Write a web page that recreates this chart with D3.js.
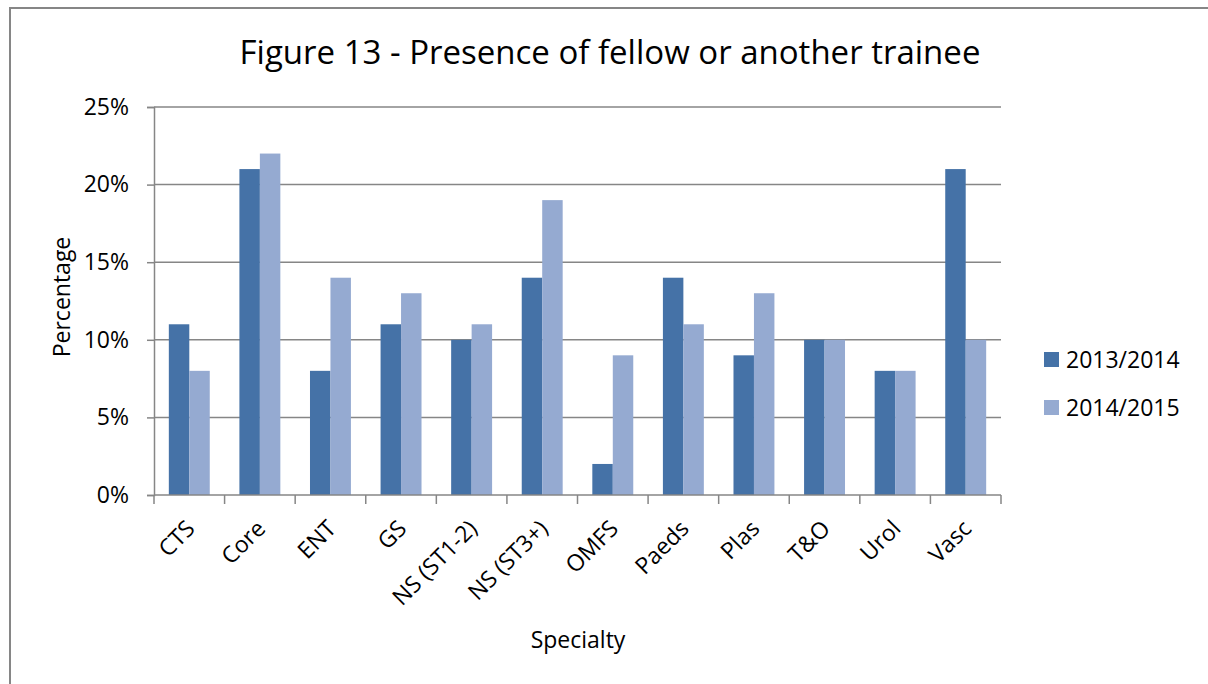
<!DOCTYPE html>
<html>
<head>
<meta charset="utf-8">
<script src="https://cdn.jsdelivr.net/npm/d3@7"></script>
<style>
  body { margin: 0; background: #fff; }
  svg { display: block; font-family: "Open Sans", sans-serif; }
</style>
</head>
<body>
<svg id="chart" width="1208" height="684"></svg>
<script>
var categories = ["CTS", "Core", "ENT", "GS", "NS (ST1-2)", "NS (ST3+)", "OMFS", "Paeds", "Plas", "T&O", "Urol", "Vasc"];
var seriesNames = ["2013/2014", "2014/2015"];
var values2013 = [11, 21, 8, 11, 10, 14, 2, 14, 9, 10, 8, 21];
var values2014 = [8, 22, 14, 13, 11, 19, 9, 11, 13, 10, 8, 10];
var yTicks = [0, 5, 10, 15, 20, 25];
var colors = ["#4572a7", "#95aad1"];

var svg = d3.select("#chart");
var gridColor = "#868686";
var fontSize = 23;

// outer chart border (runs off right / bottom edge)
svg.append("rect")
  .attr("x", 10).attr("y", 8)
  .attr("width", 1250).attr("height", 700)
  .attr("fill", "none")
  .attr("stroke", "#868686")
  .attr("stroke-width", 2);

var plotLeft = 154, plotRight = 1001, plotTop = 107, plotBottom = 495;

var x = d3.scaleBand().domain(categories).range([plotLeft, plotRight])
  .paddingInner(0.42).paddingOuter(0.21);
var x1 = d3.scaleBand().domain(seriesNames).range([0, x.bandwidth()]);
var y = d3.scaleLinear().domain([0, 25]).range([plotBottom, plotTop]);

// gridlines
svg.append("g").selectAll("line")
  .data(yTicks.filter(function (d) { return d > 0; }))
  .enter().append("line")
  .attr("x1", plotLeft).attr("x2", plotRight)
  .attr("y1", function (d) { return y(d); })
  .attr("y2", function (d) { return y(d); })
  .attr("stroke", gridColor).attr("stroke-width", 1.5);

// y axis
var yAxis = svg.append("g")
  .attr("transform", "translate(" + plotLeft + ",0)")
  .call(d3.axisLeft(y).tickValues(yTicks).tickSize(7).tickPadding(18)
    .tickFormat(function (d) { return d + "%"; }));
yAxis.select(".domain").attr("stroke", gridColor).attr("stroke-width", 1.5);
yAxis.selectAll(".tick line").attr("stroke", gridColor).attr("stroke-width", 1.5);
yAxis.selectAll("text")
  .attr("font-size", fontSize).attr("fill", "#000")
  .attr("font-family", "'Open Sans', sans-serif");

// bars
var groups = svg.append("g").selectAll("g")
  .data(categories)
  .enter().append("g")
  .attr("transform", function (d) { return "translate(" + x(d) + ",0)"; });

groups.selectAll("rect")
  .data(function (d, i) {
    return [
      { name: seriesNames[0], value: values2013[i], c: 0 },
      { name: seriesNames[1], value: values2014[i], c: 1 }
    ];
  })
  .enter().append("rect")
  .attr("x", function (d) { return x1(d.name); })
  .attr("width", x1.bandwidth())
  .attr("y", function (d) { return y(d.value); })
  .attr("height", function (d) { return y(0) - y(d.value); })
  .attr("fill", function (d) { return colors[d.c]; });

// x axis
var step = x.step();
var xAxis = svg.append("g").attr("transform", "translate(0," + plotBottom + ")");
xAxis.append("line")
  .attr("x1", plotLeft).attr("x2", plotRight)
  .attr("stroke", gridColor).attr("stroke-width", 1.5);
xAxis.selectAll(".xtick")
  .data(d3.range(categories.length + 1))
  .enter().append("line")
  .attr("x1", function (i) { return plotLeft + i * step; })
  .attr("x2", function (i) { return plotLeft + i * step; })
  .attr("y1", 0).attr("y2", 9)
  .attr("stroke", gridColor).attr("stroke-width", 1.5);

xAxis.selectAll("text")
  .data(categories)
  .enter().append("text")
  .attr("transform", function (d) {
    var cx = x(d) + x.bandwidth() / 2 + 7;
    return "translate(" + cx + ",35) rotate(-45)";
  })
  .attr("text-anchor", "end")
  .attr("font-size", fontSize)
  .attr("fill", "#000")
  .text(function (d) { return d; });

// titles
svg.append("text")
  .attr("x", 610).attr("y", 64)
  .attr("text-anchor", "middle")
  .attr("font-size", 33)
  .attr("fill", "#000")
  .text("Figure 13 - Presence of fellow or another trainee");

svg.append("text")
  .attr("transform", "translate(70,297) rotate(-90)")
  .attr("text-anchor", "middle")
  .attr("font-size", fontSize)
  .attr("fill", "#000")
  .text("Percentage");

svg.append("text")
  .attr("x", 578).attr("y", 648)
  .attr("text-anchor", "middle")
  .attr("font-size", fontSize)
  .attr("fill", "#000")
  .text("Specialty");

// legend
var legend = svg.append("g").selectAll("g")
  .data(seriesNames)
  .enter().append("g")
  .attr("transform", function (d, i) { return "translate(1044," + (352 + i * 48) + ")"; });
legend.append("rect")
  .attr("width", 15).attr("height", 15)
  .attr("fill", function (d, i) { return colors[i]; });
legend.append("text")
  .attr("x", 22).attr("y", 16)
  .attr("font-size", fontSize)
  .attr("fill", "#000")
  .text(function (d) { return d; });
</script>
</body>
</html>
